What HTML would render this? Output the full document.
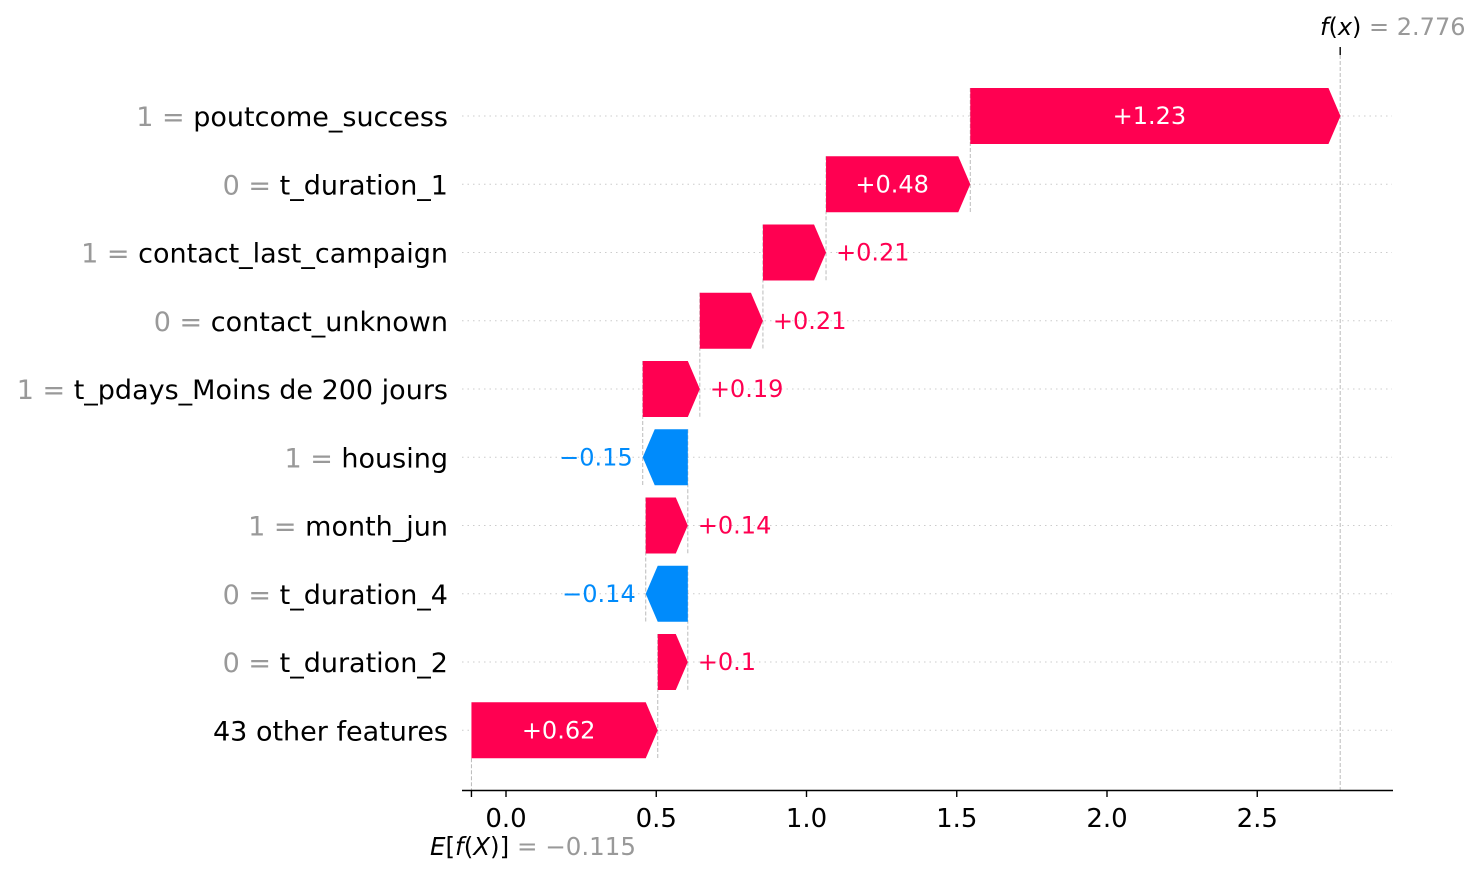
<!DOCTYPE html>
<html><head><meta charset="utf-8"><style>
body{margin:0;background:#fff;}
svg{display:block;font-family:"DejaVu Sans","Liberation Sans",sans-serif;}
</style></head><body>
<svg id="chart" width="1480" height="876" xmlns="http://www.w3.org/2000/svg"></svg>
<script>
// data (top to bottom)
const featureValues = ["1","0","1","0","1","1","1","0","0",""];
const featureNames = ["poutcome_success","t_duration_1","contact_last_campaign","contact_unknown","t_pdays_Moins de 200 jours","housing","month_jun","t_duration_4","t_duration_2","43 other features"];
const shapValues = [1.232,0.48,0.21,0.21,0.19,-0.15,0.14,-0.14,0.1,0.62];
const shapLabels = ["+1.23","+0.48","+0.21","+0.21","+0.19","\u22120.15","+0.14","\u22120.14","+0.1","+0.62"];
const baseValue = -0.115;
const fxValue = 2.776;
const xTicks = [0.0,0.5,1.0,1.5,2.0,2.5];
const xTickLabels = ["0.0","0.5","1.0","1.5","2.0","2.5"];

const svg = document.getElementById('chart');
const NS = "http://www.w3.org/2000/svg";
const X = v => 506 + v*300.5;
const Y = i => 116 + i*68.25;
const HH = 28;
function mk(tag, attrs){const e=document.createElementNS(NS,tag);for(const k in attrs)e.setAttribute(k,attrs[k]);svg.appendChild(e);return e;}

const n = shapValues.length;
const starts = new Array(n), ends = new Array(n);
let cum = baseValue;
for(let i=n-1;i>=0;i--){starts[i]=cum;cum+=shapValues[i];ends[i]=cum;}

for(let i=0;i<n;i++){
  const g=mk('line',{x1:462,x2:1392,y1:Y(i),y2:Y(i),stroke:'#ccc','stroke-width':1,'stroke-dasharray':'1.5,4'});
  
  
}
for(let i=0;i<n-1;i++){
  const c=mk('line',{x1:X(starts[i]),x2:X(starts[i]),y1:Y(i)-HH,y2:Y(i+1)+HH,stroke:'#bbb','stroke-width':1,'stroke-dasharray':'4,2'});
  
  
}
let bl=mk('line',{x1:X(baseValue),x2:X(baseValue),y1:Y(n-1)+HH,y2:790,stroke:'#bbb','stroke-width':1,'stroke-dasharray':'4,2'});

let fl=mk('line',{x1:X(fxValue),x2:X(fxValue),y1:55,y2:790,stroke:'#bbb','stroke-width':1,'stroke-dasharray':'4,2'});


for(let i=0;i<n;i++){
  const v=shapValues[i], s=X(starts[i]), e=X(ends[i]), cy=Y(i);
  const w=Math.abs(e-s), h=Math.min(12,w), dir=v>=0?1:-1;
  const col=v>=0?'#ff0051':'#008bfb';
  const pts=[[s,cy-HH],[e-dir*h,cy-HH],[e,cy],[e-dir*h,cy+HH],[s,cy+HH]].map(p=>p.join(',')).join(' ');
  const p=mk('polygon',{points:pts,fill:col});
  
  
  const t=mk('text',{y:cy+8,'font-size':24});
  t.textContent=shapLabels[i];
  if(w>110){t.setAttribute('x',(s+e)/2 - dir*h/2);t.setAttribute('text-anchor','middle');t.setAttribute('fill','#fff');}
  else if(v>=0){t.setAttribute('x',e+10);t.setAttribute('fill',col);}
  else{t.setAttribute('x',e-10);t.setAttribute('text-anchor','end');t.setAttribute('fill',col);}
  
  
  const yl=mk('text',{x:448,y:cy+10,'text-anchor':'end','font-size':27,fill:'#000'});
  
  
  if(featureValues[i]!==""){
    const a=document.createElementNS(NS,'tspan');a.setAttribute('fill','#999');a.textContent=featureValues[i]+' = ';yl.appendChild(a);
  }
  const b=document.createElementNS(NS,'tspan');b.textContent=featureNames[i];yl.appendChild(b);
}

let ax=mk('line',{x1:462,x2:1393,y1:790.5,y2:790.5,stroke:'#000','stroke-width':1.6});

for(let k=0;k<xTicks.length;k++){
  const x=X(xTicks[k]);
  const tk=mk('line',{x1:x,x2:x,y1:790,y2:797,stroke:'#000','stroke-width':1.4});
  
  const tl=mk('text',{x:x,y:827,'text-anchor':'middle','font-size':26,fill:'#000'});
  tl.textContent=xTickLabels[k];
  
}
let bt=mk('line',{x1:X(baseValue),x2:X(baseValue),y1:790,y2:797,stroke:'#000','stroke-width':1.4});

let btl=mk('text',{x:430,y:855,'font-size':24.5,fill:'#000'});
btl.innerHTML='<tspan font-style="italic">E</tspan>[<tspan font-style="italic">f</tspan>(<tspan font-style="italic">X</tspan>)] <tspan fill="#999">= \u22120.115</tspan>';


let ft=mk('line',{x1:X(fxValue),x2:X(fxValue),y1:47,y2:55,stroke:'#000','stroke-width':1.4});

let ftl=mk('text',{x:1320,y:35,'font-size':24,fill:'#000'});
ftl.innerHTML='<tspan font-style="italic">f</tspan>(<tspan font-style="italic">x</tspan>) <tspan fill="#999">= 2.776</tspan>';

</script>
</body></html>
